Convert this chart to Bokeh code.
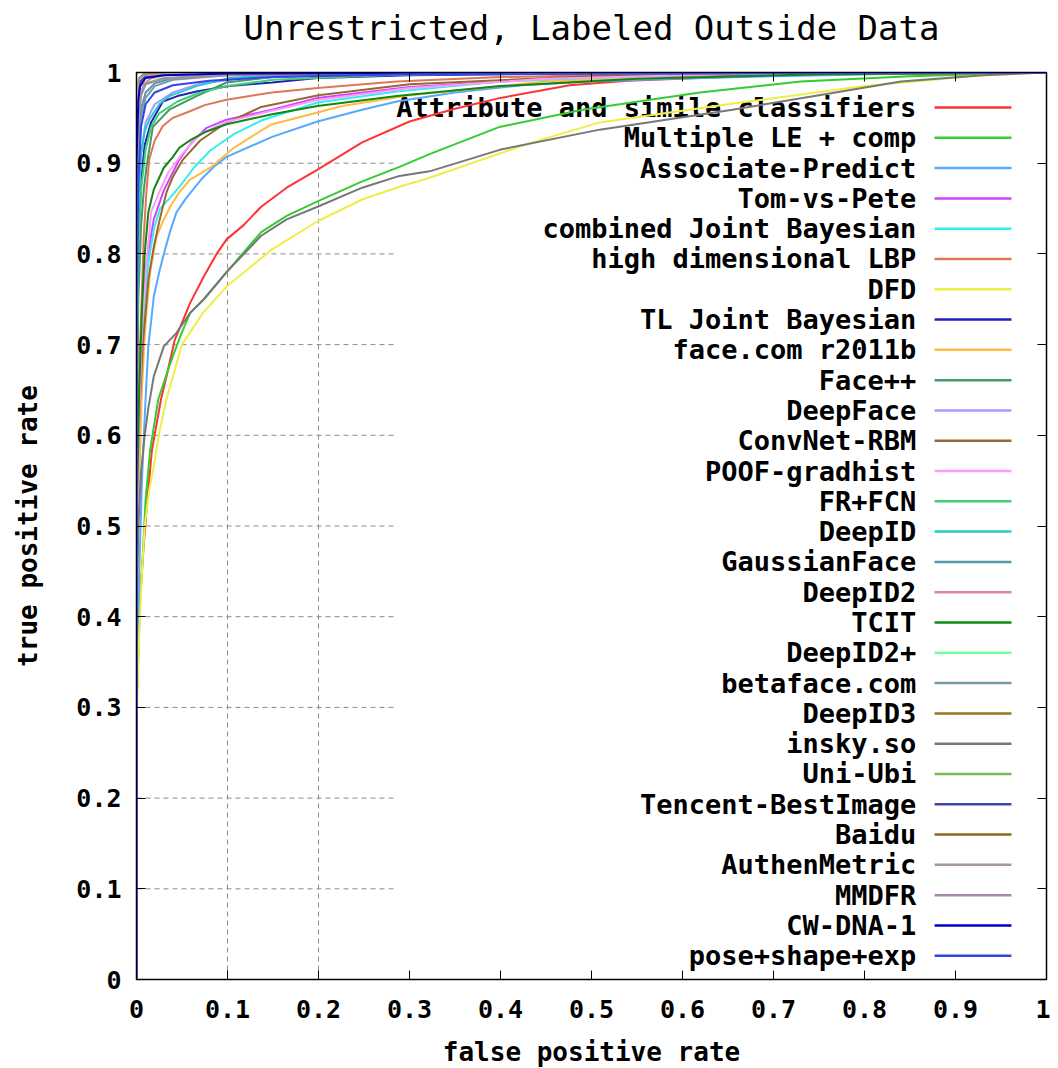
from bokeh.plotting import figure
from bokeh.models import LinearAxis, FixedTicker, Range1d, CustomJSTickFormatter
from bokeh.core.properties import value
from bokeh.embed import file_html
from bokeh.resources import INLINE

TITLE = "Unrestricted, Labeled Outside Data"
X_LABEL = "false positive rate"
Y_LABEL = "true positive rate"

x_ticks = [0, 0.1, 0.2, 0.3, 0.4, 0.5, 0.6, 0.7, 0.8, 0.9, 1]
x_tick_labels = ["0", "0.1", "0.2", "0.3", "0.4", "0.5", "0.6", "0.7", "0.8", "0.9", "1"]
y_ticks = [0, 0.1, 0.2, 0.3, 0.4, 0.5, 0.6, 0.7, 0.8, 0.9, 1]
y_tick_labels = ["0", "0.1", "0.2", "0.3", "0.4", "0.5", "0.6", "0.7", "0.8", "0.9", "1"]

names = [
    "Attribute and simile classifiers", "Multiple LE + comp", "Associate-Predict",
    "Tom-vs-Pete", "combined Joint Bayesian", "high dimensional LBP", "DFD",
    "TL Joint Bayesian", "face.com r2011b", "Face++", "DeepFace", "ConvNet-RBM",
    "POOF-gradhist", "FR+FCN", "DeepID", "GaussianFace", "DeepID2", "TCIT",
    "DeepID2+", "betaface.com", "DeepID3", "insky.so", "Uni-Ubi",
    "Tencent-BestImage", "Baidu", "AuthenMetric", "MMDFR", "CW-DNA-1",
    "pose+shape+exp",
]
colors = [
    "#ff3333", "#33cc33", "#55aaff", "#cc44ff", "#33eeee", "#dd7755", "#eeee44",
    "#2222bb", "#ffbb44", "#449966", "#aa99ff", "#996633", "#ff99ff", "#44cc77",
    "#22cccc", "#5599aa", "#dd8899", "#118811", "#77ff99", "#7799aa", "#997722",
    "#777777", "#77bb55", "#4444aa", "#8a6a1a", "#aa9999", "#aa88aa", "#0000cc",
    "#3344ee",
]

# ROC curves (fpr, tpr)
attr_fpr = [0, 0, 0.004, 0.008, 0.012, 0.017, 0.027, 0.033, 0.042, 0.059, 0.074, 0.088, 0.099, 0.118, 0.137, 0.165, 0.199, 0.248, 0.3, 0.35, 0.4, 0.476, 0.54, 0.7, 0.85, 1]
attr_tpr = [0, 0.3, 0.42, 0.48, 0.53, 0.584, 0.64, 0.665, 0.705, 0.746, 0.775, 0.8, 0.816, 0.832, 0.852, 0.873, 0.893, 0.923, 0.946, 0.96, 0.972, 0.986, 0.991, 0.997, 0.999, 1]
mle_fpr = [0, 0, 0.004, 0.007, 0.01, 0.015, 0.024, 0.036, 0.048, 0.059, 0.074, 0.099, 0.137, 0.165, 0.199, 0.248, 0.289, 0.322, 0.399, 0.49, 0.619, 0.73, 0.85, 0.95, 1]
mle_tpr = [0, 0.3, 0.42, 0.47, 0.529, 0.584, 0.64, 0.676, 0.709, 0.735, 0.75, 0.78, 0.824, 0.842, 0.858, 0.88, 0.896, 0.91, 0.94, 0.959, 0.978, 0.99, 0.996, 0.999, 1]
ap_fpr = [0, 0, 0.003, 0.006, 0.009, 0.011, 0.013, 0.016, 0.019, 0.025, 0.03, 0.037, 0.044, 0.055, 0.071, 0.085, 0.099, 0.149, 0.199, 0.248, 0.286, 0.35, 0.424, 0.5, 0.589, 0.7, 0.85, 1]
ap_tpr = [0, 0.3, 0.45, 0.55, 0.62, 0.66, 0.698, 0.725, 0.753, 0.78, 0.8, 0.825, 0.846, 0.862, 0.882, 0.896, 0.907, 0.929, 0.946, 0.959, 0.968, 0.978, 0.986, 0.99, 0.993, 0.996, 0.999, 1]
tvp_fpr = [0, 0, 0.003, 0.006, 0.011, 0.019, 0.03, 0.041, 0.047, 0.06, 0.077, 0.099, 0.149, 0.199, 0.3, 0.45, 0.65, 1]
tvp_tpr = [0, 0.5, 0.65, 0.73, 0.79, 0.838, 0.87, 0.892, 0.904, 0.922, 0.939, 0.948, 0.959, 0.972, 0.984, 0.993, 0.998, 1]
cjb_fpr = [0, 0, 0.003, 0.006, 0.009, 0.013, 0.019, 0.026, 0.037, 0.048, 0.063, 0.081, 0.107, 0.137, 0.149, 0.199, 0.286, 0.4, 0.6, 1]
cjb_tpr = [0, 0.45, 0.6, 0.7, 0.75, 0.79, 0.827, 0.85, 0.862, 0.875, 0.895, 0.914, 0.932, 0.947, 0.951, 0.967, 0.979, 0.99, 0.997, 1]
lbp_fpr = [0, 0, 0.002, 0.004, 0.008, 0.011, 0.014, 0.02, 0.029, 0.04, 0.058, 0.075, 0.099, 0.149, 0.199, 0.286, 0.4, 0.6, 1]
lbp_tpr = [0, 0.5, 0.62, 0.7, 0.82, 0.87, 0.904, 0.925, 0.941, 0.95, 0.957, 0.964, 0.97, 0.978, 0.983, 0.99, 0.995, 0.999, 1]
dfd_fpr = [0, 0, 0.003, 0.006, 0.009, 0.014, 0.019, 0.025, 0.033, 0.05, 0.073, 0.099, 0.149, 0.199, 0.248, 0.289, 0.322, 0.435, 0.509, 0.65, 0.8, 0.93, 1]
dfd_tpr = [0, 0.28, 0.38, 0.45, 0.5, 0.54, 0.566, 0.603, 0.64, 0.7, 0.735, 0.764, 0.805, 0.836, 0.86, 0.874, 0.884, 0.923, 0.945, 0.965, 0.985, 0.997, 1]
tljb_fpr = [0, 0, 0.002, 0.005, 0.009, 0.016, 0.029, 0.045, 0.066, 0.102, 0.149, 0.199, 0.3, 0.5, 1]
tljb_tpr = [0, 0.6, 0.8, 0.88, 0.92, 0.945, 0.968, 0.974, 0.979, 0.985, 0.989, 0.994, 0.997, 0.999, 1]
fcom_fpr = [0, 0, 0.003, 0.006, 0.009, 0.011, 0.015, 0.022, 0.03, 0.037, 0.047, 0.059, 0.081, 0.107, 0.137, 0.149, 0.199, 0.226, 0.3, 0.45, 0.7, 1]
fcom_tpr = [0, 0.4, 0.55, 0.65, 0.71, 0.735, 0.78, 0.819, 0.838, 0.852, 0.868, 0.882, 0.895, 0.917, 0.936, 0.943, 0.956, 0.963, 0.975, 0.99, 0.998, 1]
fpp_fpr = [0, 0, 0.002, 0.005, 0.008, 0.011, 0.018, 0.036, 0.066, 0.099, 0.15, 0.25, 0.5, 1]
fpp_tpr = [0, 0.6, 0.75, 0.83, 0.87, 0.896, 0.94, 0.959, 0.974, 0.989, 0.995, 0.998, 0.999, 1]
df_fpr = [0, 0, 0.002, 0.005, 0.01, 0.02, 0.04, 0.07, 0.12, 0.2, 0.4, 1]
df_tpr = [0, 0.7, 0.85, 0.91, 0.945, 0.965, 0.978, 0.988, 0.994, 0.997, 0.999, 1]
crbm_fpr = [0, 0, 0.003, 0.007, 0.013, 0.019, 0.026, 0.033, 0.04, 0.051, 0.07, 0.096, 0.137, 0.2, 0.3, 0.5, 1]
crbm_tpr = [0, 0.5, 0.62, 0.7, 0.772, 0.808, 0.84, 0.868, 0.885, 0.904, 0.925, 0.943, 0.962, 0.975, 0.987, 0.996, 1]
poof_fpr = [0, 0, 0.003, 0.006, 0.011, 0.016, 0.025, 0.035, 0.05, 0.07, 0.1, 0.15, 0.2, 0.3, 0.45, 0.65, 1]
poof_tpr = [0, 0.45, 0.62, 0.72, 0.79, 0.846, 0.868, 0.89, 0.91, 0.932, 0.946, 0.958, 0.97, 0.983, 0.993, 0.998, 1]
frfcn_fpr = [0, 0, 0.002, 0.005, 0.01, 0.016, 0.025, 0.045, 0.07, 0.1, 0.15, 0.3, 1]
frfcn_tpr = [0, 0.65, 0.8, 0.87, 0.915, 0.94, 0.955, 0.968, 0.978, 0.985, 0.992, 0.998, 1]
did_fpr = [0, 0, 0.002, 0.005, 0.009, 0.014, 0.025, 0.036, 0.066, 0.102, 0.15, 0.3, 1]
did_tpr = [0, 0.7, 0.85, 0.91, 0.935, 0.948, 0.965, 0.974, 0.985, 0.994, 0.997, 0.999, 1]
gf_fpr = [0, 0, 0.002, 0.005, 0.01, 0.02, 0.04, 0.08, 0.2, 1]
gf_tpr = [0, 0.8, 0.92, 0.96, 0.978, 0.988, 0.994, 0.997, 0.999, 1]
did2_fpr = [0, 0, 0.002, 0.004, 0.008, 0.015, 0.03, 0.1, 1]
did2_tpr = [0, 0.85, 0.95, 0.975, 0.987, 0.993, 0.997, 0.999, 1]
tcit_fpr = [0, 0, 0.003, 0.006, 0.009, 0.013, 0.019, 0.03, 0.04, 0.047, 0.06, 0.077, 0.099, 0.149, 0.199, 0.286, 0.4, 0.55, 0.75, 1]
tcit_tpr = [0, 0.5, 0.65, 0.74, 0.8, 0.846, 0.871, 0.895, 0.907, 0.917, 0.926, 0.935, 0.943, 0.954, 0.963, 0.974, 0.985, 0.993, 0.998, 1]
did2p_fpr = [0, 0, 0.002, 0.004, 0.008, 0.02, 0.06, 1]
did2p_tpr = [0, 0.9, 0.97, 0.985, 0.993, 0.997, 0.999, 1]
beta_fpr = [0, 0, 0.002, 0.005, 0.01, 0.02, 0.04, 0.1, 0.3, 1]
beta_tpr = [0, 0.75, 0.9, 0.95, 0.972, 0.985, 0.992, 0.997, 0.999, 1]
did3_fpr = [0, 0, 0.002, 0.004, 0.01, 0.03, 0.1, 1]
did3_tpr = [0, 0.9, 0.975, 0.988, 0.995, 0.998, 0.999, 1]
insky_fpr = [0, 0, 0.002, 0.005, 0.009, 0.013, 0.019, 0.03, 0.044, 0.059, 0.074, 0.099, 0.137, 0.165, 0.199, 0.248, 0.289, 0.322, 0.4, 0.509, 0.655, 0.75, 0.84, 0.93, 1]
insky_tpr = [0, 0.4, 0.5, 0.56, 0.6, 0.63, 0.665, 0.698, 0.713, 0.735, 0.75, 0.78, 0.82, 0.838, 0.852, 0.873, 0.886, 0.891, 0.915, 0.937, 0.959, 0.975, 0.99, 0.997, 1]
uni_fpr = [0, 0, 0.002, 0.005, 0.01, 0.03, 0.1, 0.4, 1]
uni_tpr = [0, 0.85, 0.95, 0.975, 0.988, 0.994, 0.997, 0.999, 1]
tenc_fpr = [0, 0, 0.002, 0.004, 0.01, 0.04, 0.2, 1]
tenc_tpr = [0, 0.93, 0.98, 0.99, 0.996, 0.998, 0.999, 1]
baidu_fpr = [0, 0, 0.001, 0.003, 0.008, 0.05, 1]
baidu_tpr = [0, 0.95, 0.985, 0.994, 0.998, 0.999, 1]
authen_fpr = [0, 0, 0.001, 0.003, 0.008, 0.05, 1]
authen_tpr = [0, 0.94, 0.983, 0.993, 0.997, 0.999, 1]
mmdfr_fpr = [0, 0, 0.002, 0.005, 0.01, 0.03, 0.1, 0.5, 1]
mmdfr_tpr = [0, 0.85, 0.95, 0.975, 0.987, 0.993, 0.997, 0.999, 1]
cw_fpr = [0, 0, 0.002, 0.004, 0.01, 0.03, 0.1, 1]
cw_tpr = [0, 0.9, 0.97, 0.985, 0.994, 0.997, 0.999, 1]
pse_fpr = [0, 0, 0.002, 0.005, 0.01, 0.02, 0.04, 0.08, 0.15, 0.3, 1]
pse_tpr = [0, 0.7, 0.88, 0.94, 0.965, 0.978, 0.986, 0.991, 0.995, 0.998, 1]

curves = [
    (attr_fpr, attr_tpr), (mle_fpr, mle_tpr), (ap_fpr, ap_tpr), (tvp_fpr, tvp_tpr),
    (cjb_fpr, cjb_tpr), (lbp_fpr, lbp_tpr), (dfd_fpr, dfd_tpr), (tljb_fpr, tljb_tpr),
    (fcom_fpr, fcom_tpr), (fpp_fpr, fpp_tpr), (df_fpr, df_tpr), (crbm_fpr, crbm_tpr),
    (poof_fpr, poof_tpr), (frfcn_fpr, frfcn_tpr), (did_fpr, did_tpr), (gf_fpr, gf_tpr),
    (did2_fpr, did2_tpr), (tcit_fpr, tcit_tpr), (did2p_fpr, did2p_tpr), (beta_fpr, beta_tpr),
    (did3_fpr, did3_tpr), (insky_fpr, insky_tpr), (uni_fpr, uni_tpr), (tenc_fpr, tenc_tpr),
    (baidu_fpr, baidu_tpr), (authen_fpr, authen_tpr), (mmdfr_fpr, mmdfr_tpr), (cw_fpr, cw_tpr),
    (pse_fpr, pse_tpr),
]

FONT = "DejaVu Sans Mono"

p = figure(
    frame_width=910, frame_height=907,
    x_range=Range1d(0, 1), y_range=Range1d(0, 1),
    output_backend="svg", toolbar_location=None,
    min_border_left=136, min_border_top=72, min_border_right=4, min_border_bottom=82,
)
p.background_fill_color = "white"
p.border_fill_color = "white"
p.outline_line_color = "black"
p.outline_line_width = 1.5
p.xgrid.visible = False
p.ygrid.visible = False

for ax, ticks, labels in ((p.xaxis[0], x_ticks, x_tick_labels), (p.yaxis[0], y_ticks, y_tick_labels)):
    ax.ticker = FixedTicker(ticks=ticks)
    ax.major_label_overrides = dict(zip(ticks, labels))
    ax.major_tick_in = 9
    ax.major_tick_out = 0
    ax.minor_tick_line_color = None
    ax.axis_line_color = "black"
    ax.major_tick_line_color = "black"
    ax.major_label_text_font = FONT
    ax.major_label_text_font_style = "bold"
    ax.major_label_text_font_size = "25px"
    ax.major_label_text_color = "black"
    ax.axis_label_text_font = FONT
    ax.axis_label_text_font_style = "bold"
    ax.axis_label_text_font_size = "26px"
    ax.axis_label_text_color = "black"

p.xaxis[0].axis_label = X_LABEL
p.xaxis[0].major_label_standoff = 20
p.xaxis[0].axis_label_standoff = 16
p.yaxis[0].axis_label = Y_LABEL
p.yaxis[0].major_label_standoff = 15
p.yaxis[0].axis_label_standoff = 30

blank = CustomJSTickFormatter(code="return '';")
# mirror axis on top; the chart title is carried as its label, centred over the frame
top_ax = LinearAxis(ticker=FixedTicker(ticks=x_ticks), formatter=blank, major_tick_in=9,
                    major_tick_out=0, minor_tick_line_color=None, axis_line_color="black",
                    major_label_standoff=0, major_label_text_font_size="1px",
                    axis_label=TITLE, axis_label_text_font=FONT,
                    axis_label_text_font_size="34px", axis_label_text_font_style="normal",
                    axis_label_text_color="black", axis_label_standoff=25)
right_ax = LinearAxis(ticker=FixedTicker(ticks=y_ticks), formatter=blank, major_tick_in=9,
                      major_tick_out=0, minor_tick_line_color=None, axis_line_color="black",
                      major_label_standoff=0, major_label_text_font_size="1px")
p.add_layout(top_ax, "above")
p.add_layout(right_ax, "right")

# grid (gnuplot hides it behind the key box)
KEY_LEFT = 0.286
hy = y_ticks[1:-1]
p.segment(x0=[0] * len(hy), x1=[KEY_LEFT] * len(hy), y0=hy, y1=hy,
          line_color="#8c8c8c", line_width=1, line_dash="5 4")
vx = [t for t in x_ticks[1:-1] if t < KEY_LEFT]
p.segment(x0=vx, x1=vx, y0=[0] * len(vx), y1=[1] * len(vx),
          line_color="#8c8c8c", line_width=1, line_dash="5 4")

# key
KEY_TOP = 0.9614
KEY_STEP = 0.0334
rows = [KEY_TOP - i * KEY_STEP for i in range(len(names))]
p.text(x=[0.857] * len(names), y=rows, text=names, text_align="right",
       text_baseline="middle", text_font=value(FONT), text_font_style="bold",
       text_font_size="27px", text_color="black")
p.segment(x0=[0.877] * len(names), x1=[0.9615] * len(names), y0=rows, y1=rows,
          line_color=colors, line_width=2.5)

for (fx, ty), c in zip(curves, colors):
    p.line(fx, ty, line_color=c, line_width=2)

open("out.html", "w").write(file_html(p, INLINE))
